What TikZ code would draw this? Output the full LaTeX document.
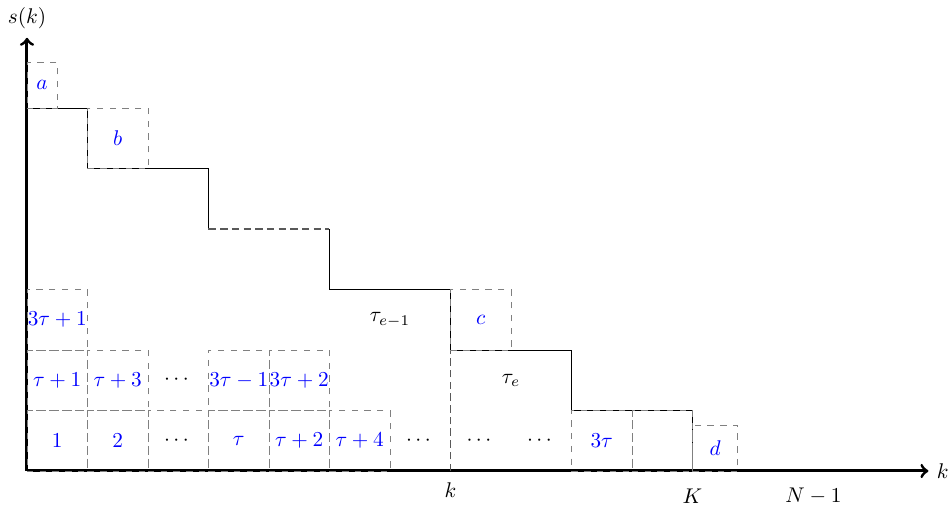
\documentclass[tikz,border=0pt]{standalone}
\usepackage{amsmath, amssymb}
\usepackage{tikz}
\usetikzlibrary{shapes,arrows,positioning}

\begin{document}
\begin{tikzpicture}[node distance=0pt,
	cell/.style={draw=gray, dashed, rectangle, text=blue, minimum width=1cm, minimum height=1cm, inner sep=0pt, outer sep=0pt},
	gap/.style={rectangle, minimum width=1cm, minimum height=1cm, inner sep=0pt, outer sep=0pt},
	guide/.style={draw=black!65, semithick, dash pattern=on 3.5pt off 2pt},
	axis/.style={line width=1.4pt, ->}]
				\useasboundingbox (-0.446,-0.579) rectangle (15.29,7.785);
				% axes
				\coordinate (O) at (0,0);
				\coordinate (xend) at (14.9,0);
				\coordinate (yend) at (0,7.16);
				\draw[axis] (O) -- (xend) node[right] (xlab) {$k$};
				\draw[axis] (O) -- (yend) node[above] (ylab) {$s(k)$};
				% staircase
				\draw (0,6) -- (1,6) -- (1,5) -- (3,5) -- (3,4);
				\draw[guide] (3,4) -- (5,4);
				\draw (5,4) -- (5,3) -- (7,3) -- (7,2) -- (9,2) -- (9,1) -- (11,1) -- (11,0);
				\draw[guide] (7,0) -- (7,2);
				% first row
				\node[cell] (r1a) at (0.5,0.5) {$1$};
				\node[cell] (r1b) [right=of r1a] {$2$};
				\node[cell, text=black] (r1c) [right=of r1b] {$\cdots$};
				\node[cell] (r1d) [right=of r1c] {$\tau$};
				\node[cell] (r1e) [right=of r1d] {$\tau+2$};
				\node[cell] (r1f) [right=of r1e] {$\tau+4$};
				\node[gap] (r1g) [right=of r1f] {$\cdots$};
				\node[gap] (r1h) [right=of r1g] {$\cdots$};
				\node[gap] (r1i) [right=of r1h] {$\cdots$};
				\node[cell] (r1j) [right=of r1i] {$3\tau$};
				\node[cell] (r1k) [right=of r1j] {};
				% second row
				\node[cell] (r2a) [above=of r1a] {$\tau+1$};
				\node[cell] (r2b) [above=of r1b] {$\tau+3$};
				\node[gap] (r2c) [above=of r1c] {$\cdots$};
				\node[cell] (r2d) [above=of r1d] {$3\tau-1$};
				\node[cell] (r2e) [above=of r1e] {$3\tau+2$};
				% third row
				\node[cell] (r3a) [above=of r2a] {$3\tau+1$};
				% remainders
				\node[cell, minimum width=0.5cm, minimum height=0.75cm] (a) at (0.25,6.375) {$a$};
				\node[cell] (b) at (1.5,5.5) {$b$};
				\node[cell] (c) at (7.5,2.5) {$c$};
				\node[cell, minimum width=0.75cm, minimum height=0.75cm] (d) at (11.375,0.375) {$d$};
				\node (te1) at (6,2.5) {$\tau_{e-1}$};
				\node (te) at (8,1.5) {$\tau_e$};
				% ticks
				\node (klab) at (7,-0.31) {$k$};
				\node (Klab) at (11,-0.41) {$K$};
				\node (Nlab) at (13,-0.41) {$N-1$};
			\end{tikzpicture}
\end{document}
